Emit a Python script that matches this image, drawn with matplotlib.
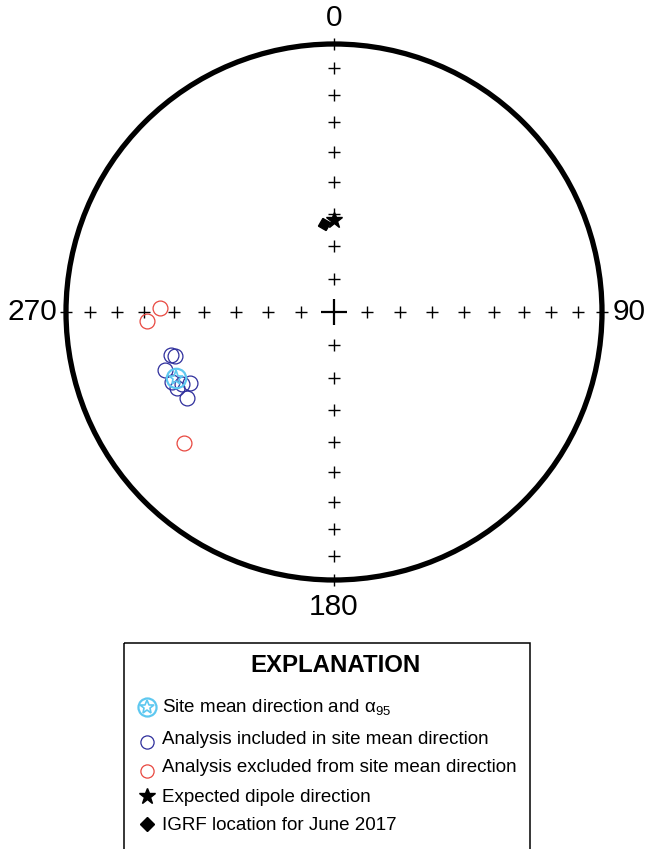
import numpy as np
import matplotlib
matplotlib.use("Agg")
import matplotlib.pyplot as plt
from matplotlib.patches import Rectangle, Circle

plt.rcParams['font.family'] = ['Liberation Sans', 'DejaVu Sans']
plt.rcParams['mathtext.fontset'] = 'custom'
plt.rcParams['mathtext.rm'] = 'Liberation Sans'
plt.rcParams['mathtext.it'] = 'Liberation Sans'

# ---- data (declination, inclination in degrees) ----
included_dec = [255.2, 254.5, 251.1, 243.8, 244.2, 239.7, 246.6, 244.7]
included_inc = [-37.2, -38.4, -33.7, -39.9, -35.1, -36.5, -34.5, -37.3]
excluded_dec = [271.3, 267.2, 228.9]
excluded_inc = [-35.3, -30.8, -26.6]
mean_dec, mean_inc = 247.3, -36.4
dipole_dec, dipole_inc = 0.0, 62.0
igrf_dec, igrf_inc = 353.5, 63.0
tick_incs = [80, 70, 60, 50, 40, 30, 20, 10, 0]
axis_decs = [0, 90, 180, 270]
axis_labels = ['0', '90', '180', '270']

legend_labels = ['Site mean direction and \u03b1$_{95}$',
                 'Analysis included in site mean direction',
                 'Analysis excluded from site mean direction',
                 'Expected dipole direction',
                 'IGRF location for June 2017']


def proj(dec, inc):
    dec = np.radians(np.asarray(dec, float))
    inc = np.abs(np.asarray(inc, float))
    r = np.sqrt(2) * np.sin(np.radians(90 - inc) / 2)
    return r * np.sin(dec), r * np.cos(dec)


W, H = 646, 849
fig = plt.figure(figsize=(W / 100, H / 100), dpi=100)
cx, cy, R = 334, 312, 268
half = 1.1 * R
ax = fig.add_axes([(cx - half) / W, (H - cy - half) / H, 2 * half / W, 2 * half / H])
ax.set_xlim(-1.1, 1.1)
ax.set_ylim(-1.1, 1.1)
ax.set_aspect('equal')
ax.axis('off')

# ticks
for d in axis_decs:
    x, y = proj([d] * len(tick_incs), tick_incs)
    ax.plot(x, y, ls='none', marker='+', ms=9, mew=1.0, color='black', zorder=2)
ax.plot([0], [0], ls='none', marker='+', ms=19, mew=1.6, color='black', zorder=2)

# primitive circle
ax.add_patch(Circle((0, 0), 1.0, fill=False, lw=3.8, color='black', zorder=3))

# axis labels
lab_pos = {'0': (0, 1.0 + 26 / R), '90': (1.0 + 27 / R, 0),
           '180': (0, -1.0 - 27 / R), '270': (-1.0 - 34 / R, 0)}
for lab in axis_labels:
    x, y = lab_pos[lab]
    ax.text(x, y, lab, fontsize=21.5, ha='center', va='center', clip_on=False)

blue = '#2e2e9c'
red = '#e8473f'
cyan = '#5ec8f0'

x, y = proj(excluded_dec, excluded_inc)
ax.plot(x, y, ls='none', marker='o', ms=10.7, mfc='none', mec=red, mew=0.9, zorder=4)
x, y = proj(included_dec, included_inc)
ax.plot(x, y, ls='none', marker='o', ms=10.7, mfc='none', mec=blue, mew=0.9, zorder=4)
x, y = proj([mean_dec], [mean_inc])
ax.plot(x, y, ls='none', marker='o', ms=14, mfc='none', mec=cyan, mew=1.6, zorder=5)
ax.plot(x, y, ls='none', marker='*', ms=11, mfc='none', mec=cyan, mew=1.2, zorder=5)

x, y = proj([igrf_dec], [igrf_inc])
ax.plot(x, y, ls='none', marker=(4, 0, 15), ms=9, color='black', zorder=5)
x, y = proj([dipole_dec], [dipole_inc])
ax.plot(x, y, ls='none', marker='*', ms=12, color='black', zorder=6)

# explanation box
lax = fig.add_axes([0, 0, 1, 1])
lax.set_xlim(0, W)
lax.set_ylim(H, 0)
lax.axis('off')
lax.add_patch(Rectangle((124, 643), 406, 230, fill=False, lw=1.1, color='black', clip_on=False))
lax.text(335, 665, 'EXPLANATION', fontsize=17.3, fontweight='bold', ha='center', va='center')
rows = [707, 739, 768, 797, 826]
mx = 147
lax.plot([mx], [rows[0]], ls='none', marker='o', ms=13, mfc='none', mec=cyan, mew=1.6)
lax.plot([mx], [rows[0]], ls='none', marker='*', ms=10, mfc='none', mec=cyan, mew=1.2)
lax.plot([mx], [rows[1] + 3], ls='none', marker='o', ms=9.5, mfc='none', mec=blue, mew=0.9)
lax.plot([mx], [rows[2] + 3], ls='none', marker='o', ms=9.5, mfc='none', mec=red, mew=0.9)
lax.plot([mx], [rows[3] - 1], ls='none', marker='*', ms=12, color='black')
lax.plot([mx], [rows[4] - 2], ls='none', marker='D', ms=7.5, color='black')
for lab, ry in zip(legend_labels, rows):
    lax.text(162, ry, lab, fontsize=13.5, ha='left', va='center')

fig.savefig('out.png', dpi=100)
